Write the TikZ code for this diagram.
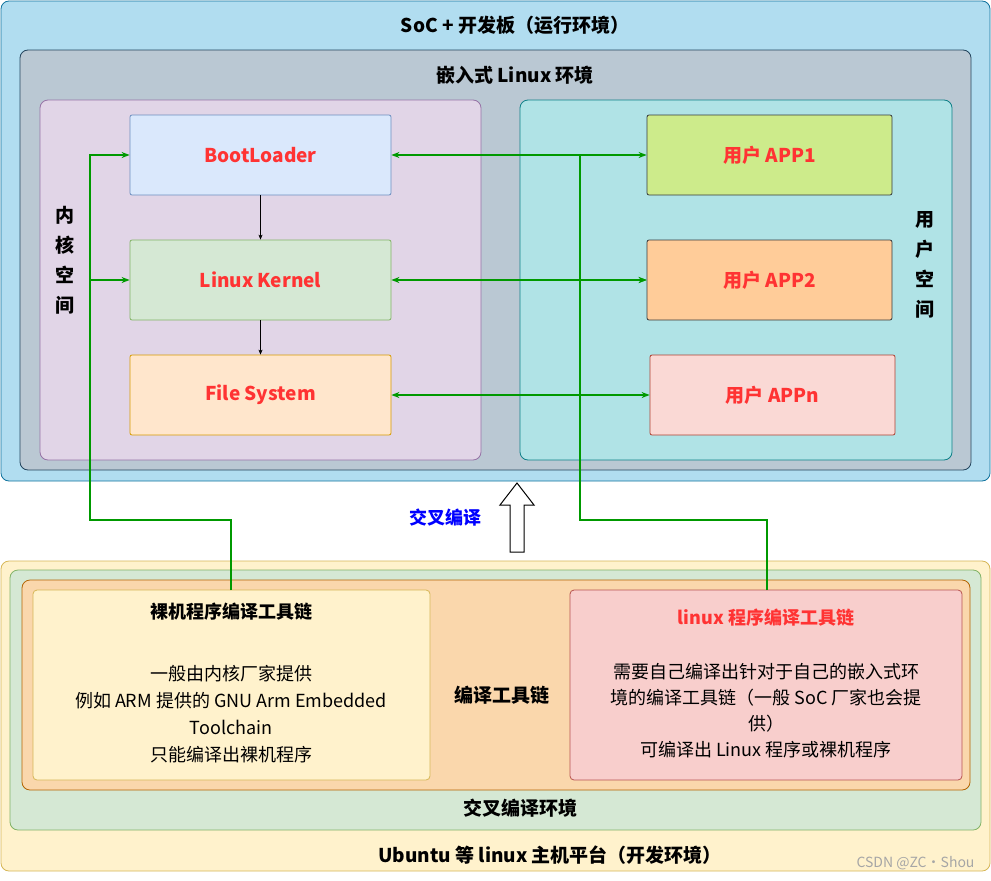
\documentclass[tikz,border=0pt]{standalone}
\usepackage{fontspec}
\setmainfont{Noto Sans CJK SC}
\usetikzlibrary{arrows.meta}
\definecolor{gr}{HTML}{009900}
\definecolor{rd}{HTML}{FF3333}
\definecolor{socD}{HTML}{10739E}\definecolor{socF}{HTML}{B1DDF0}
\definecolor{embD}{HTML}{23445D}\definecolor{embF}{HTML}{BAC8D3}
\definecolor{purD}{HTML}{9673A6}\definecolor{purF}{HTML}{E1D5E7}
\definecolor{tealD}{HTML}{0E8088}\definecolor{tealF}{HTML}{B0E3E6}
\definecolor{bluD}{HTML}{6C8EBF}\definecolor{bluF}{HTML}{DAE8FC}
\definecolor{grnD}{HTML}{82B366}\definecolor{grnF}{HTML}{D5E8D4}
\definecolor{orD}{HTML}{D79B00}\definecolor{orF}{HTML}{FFE6CC}
\definecolor{dkD}{HTML}{36393D}\definecolor{limeF}{HTML}{CDEB8B}
\definecolor{peachF}{HTML}{FFCC99}
\definecolor{pinkD}{HTML}{AE4132}\definecolor{pinkF}{HTML}{FAD9D5}
\definecolor{yelD}{HTML}{D6B656}\definecolor{yelF}{HTML}{FFF2CC}
\definecolor{tcD}{HTML}{B46504}\definecolor{tcF}{HTML}{FAD7AC}
\definecolor{redD}{HTML}{B85450}\definecolor{redF}{HTML}{F8CECC}
\begin{document}
\begin{tikzpicture}[x=1pt,y=-1pt,
 box/.style={line width=0.8pt,rounded corners=8pt},
 blk/.style={draw=#1,line width=0.8pt,rounded corners=2pt,font=\fontsize{19}{22}\selectfont\bfseries,text=rd},
 t/.style={font=\fontsize{19}{22}\selectfont\bfseries},
 b/.style={font=\fontsize{18}{27}\selectfont,align=center},
 ga/.style={gr,line width=1.2pt,-{Stealth[length=8pt,width=6pt]}},
 gb/.style={gr,line width=1.2pt,{Stealth[length=8pt,width=6pt]}-{Stealth[length=8pt,width=6pt]}}]
\useasboundingbox (0,0) rectangle (991,881);
% top
\path[box,draw=socD,fill=socF] (1,1) rectangle (990,481);
\node[t] (soc) at (515,25) {SoC + 开发板（运行环境）};
\path[box,draw=embD,fill=embF] (20,50) rectangle (971,470);
\node[t] (emb) at (515,75) {嵌入式 Linux 环境};
\path[box,draw=purD,fill=purF] (40,100) rectangle (481,460);
\node[t,align=center,text width=22pt,font=\fontsize{19}{30}\selectfont\bfseries] (ks) at (65,260) {内\\核\\空\\间};
\path[box,draw=tealD,fill=tealF] (520,100) rectangle (952,460);
\node[t,align=center,text width=22pt,font=\fontsize{19}{30}\selectfont\bfseries] (us) at (925,265) {用\\户\\空\\间};
\node[blk=bluD,fill=bluF,minimum width=261pt,minimum height=80pt] (boot) at (260.5,155) {BootLoader};
\node[blk=grnD,fill=grnF,minimum width=261pt,minimum height=80pt] (kern) at (260.5,280) {Linux Kernel};
\node[blk=orD,fill=orF,minimum width=261pt,minimum height=80pt] (fs) at (260.5,395) {File System};
\node[blk=dkD,fill=limeF,minimum width=245pt,minimum height=80pt] (a1) at (769.5,155) {用户 APP1};
\node[blk=dkD,fill=peachF,minimum width=245pt,minimum height=80pt] (a2) at (769.5,280) {用户 APP2};
\node[blk=pinkD,fill=pinkF,minimum width=245pt,minimum height=80pt] (an) at (772.5,395) {用户 APPn};
\draw[-{Stealth[length=5pt,width=4pt]}] (boot) -- (kern);
\draw[-{Stealth[length=5pt,width=4pt]}] (kern) -- (fs);
\draw[gb] (boot) -- (a1);
\draw[gb] (kern) -- (a2);
\draw[gb] (fs) -- (an);
% bottom
\path[box,draw=yelD,fill=yelF] (1,561) rectangle (990,871);
\node[t] (ub) at (550,855) {Ubuntu 等 linux 主机平台（开发环境）};
\path[box,draw=grnD,fill=grnF] (10,570) rectangle (981,830);
\node[t] (cross) at (520,808) {交叉编译环境};
\path[box,draw=tcD,fill=tcF] (22,580) rectangle (970,790);
\node[t] (tc) at (502,695) {编译工具链};
\node[draw=yelD,fill=yelF,rounded corners=4pt,line width=0.8pt,minimum width=397pt,minimum height=190pt] (lt) at (231.5,685) {};
\node[t,font=\fontsize{18}{22}\selectfont\bfseries] (ltt) at (231,612) {裸机程序编译工具链};
\node[b] (ltb) at (231,714) {一般由内核厂家提供\\例如 ARM 提供的 GNU Arm Embedded\\Toolchain\\只能编译出裸机程序};
\node[draw=redD,fill=redF,rounded corners=4pt,line width=0.8pt,minimum width=392pt,minimum height=190pt] (rt) at (766,685) {};
\node[t,text=rd,font=\fontsize{18}{22}\selectfont\bfseries] (rtt) at (766,618) {linux 程序编译工具链};
\node[b,font=\fontsize{18}{26}\selectfont] (rtb) at (766,711) {需要自己编译出针对于自己的嵌入式环\\境的编译工具链（一般 SoC 厂家也会提\\供）\\可编译出 Linux 程序或裸机程序};
% green wiring
\coordinate (l0) at (231,590);
\coordinate (r0) at (767,590);
\draw[ga] (l0) |- (90,520) |- (boot.west);
\draw[ga] (90,280) -- (kern.west);
\draw[gr,line width=1.2pt] (r0) |- (580,520) -- (580,155);
\draw[ga] (580,280) -- (a2.west);
% hollow arrow
\draw[fill=white,line width=1pt] (510,552) -- (524,552) -- (524,505) -- (534,505) -- (517,483) -- (500,505) -- (510,505) -- cycle;
\node[t,text=blue,font=\fontsize{18}{22}\selectfont\bfseries] (cc) at (445,518) {交叉编译};
\node[text=gray!70,font=\fontsize{14}{16}\selectfont,anchor=east] (wm) at (978,863) {CSDN @ZC·Shou};
\end{tikzpicture}
\end{document}
